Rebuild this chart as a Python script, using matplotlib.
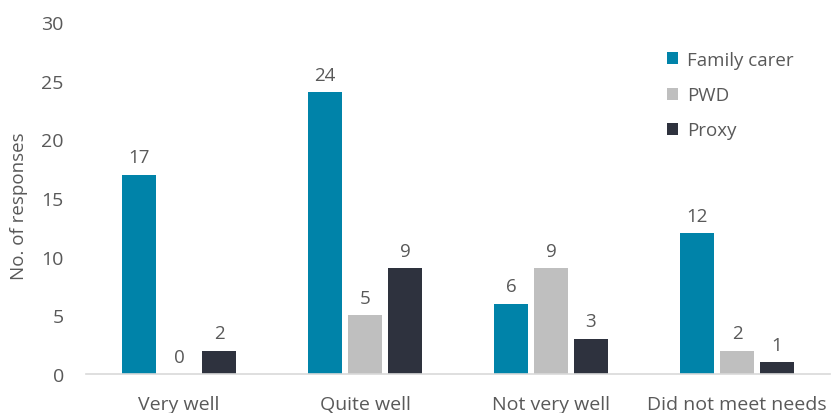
import numpy as np
import matplotlib.pyplot as plt

categories = ["Very well", "Quite well", "Not very well", "Did not meet needs"]
series = ["Family carer", "PWD", "Proxy"]
family_carer = [17, 24, 6, 12]
pwd = [0, 5, 9, 2]
proxy = [2, 9, 3, 1]

colors = ["#0083A9", "#BFBFBF", "#2E323E"]
text_col = "#595959"

plt.rcParams['font.family'] = ['Open Sans', 'DejaVu Sans']

fig = plt.figure(figsize=(8.34, 4.14), dpi=100)
ax = fig.add_axes([86 / 834, 39 / 414, 744 / 834, 352 / 414])

x = np.arange(len(categories))
width = 0.183
step = 0.215
for j, (name, vals) in enumerate(zip(series, [family_carer, pwd, proxy])):
    pos = x + (j - 1) * step
    ax.bar(pos, vals, width, color=colors[j], label=name)
    for xp, v in zip(pos, vals):
        ax.annotate(str(v), (xp, v), xytext=(0, 6), textcoords="offset points",
                    ha="center", va="bottom", fontsize=13.5, color=text_col)

ax.set_xlim(-0.5, 3.5)
ax.set_ylim(0, 30)
ax.set_yticks(range(0, 31, 5))
ax.set_xticks(x)
ax.set_xticklabels(categories)
ax.tick_params(axis="both", length=0, labelsize=14, labelcolor=text_col)
ax.tick_params(axis="x", pad=15)
ax.tick_params(axis="y", pad=16)
ax.set_ylabel("No. of responses", fontsize=13.5, color=text_col)
ax.yaxis.set_label_coords(-0.078, 0.48)

for s in ["top", "right", "left"]:
    ax.spines[s].set_visible(False)
ax.spines["bottom"].set_color("#D9D9D9")
ax.spines["bottom"].set_linewidth(1.2)

fig.legend(loc="upper left", bbox_to_anchor=(667 / 834, 1 - 52 / 414), frameon=False,
           fontsize=13.5, labelcolor=text_col, handlelength=0.6, handleheight=0.6,
           labelspacing=0.92, handletextpad=0.45, borderpad=0, borderaxespad=0)

fig.savefig("out.png", dpi=100)
